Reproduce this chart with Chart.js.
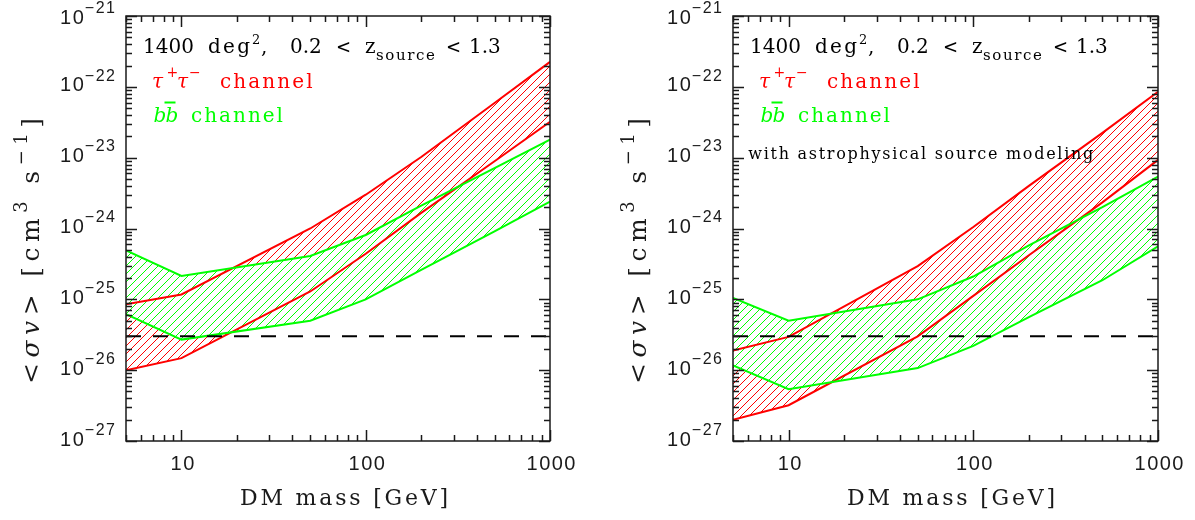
<!DOCTYPE html>
<html>
<head>
<meta charset="utf-8">
<script src="https://cdn.jsdelivr.net/npm/chart.js@4.4.1/dist/chart.umd.min.js"></script>
<style>
  html, body { margin: 0; padding: 0; background: #fff; }
  #wrap { position: relative; width: 1195px; height: 520px; }
  .panel { position: absolute; top: 0; height: 520px; width: 598px; }
  #spare { display: none; }
</style>
</head>
<body>
<canvas id="spare" width="1" height="1"></canvas>
<div id="wrap">
  <div class="panel" style="left:0"><canvas id="lensOnly" width="598" height="520"></canvas></div>
  <div class="panel" style="left:597px"><canvas id="withModel" width="598" height="520"></canvas></div>
</div>
<script>
// DM masses [GeV] where the limits were computed
const masses = [5, 10, 50, 100, 200, 500, 1000];

// <sigma v> bands [cm^3 s^-1], lensing only
const tauHighA = [8.5e-26, 1.17e-25, 1.0e-24, 3.0e-24, 1.02e-23, 5.9e-23, 2.25e-22];
const tauLowA  = [1.0e-26, 1.48e-26, 1.29e-25, 4.4e-25, 1.66e-24, 8.9e-24, 3.2e-23];
const bbHighA  = [4.9e-25, 2.14e-25, 4.1e-25, 8.1e-25, 2.1e-24, 7.1e-24, 1.8e-23];
const bbLowA   = [6.2e-26, 2.7e-26, 5.0e-26, 1.0e-25, 2.6e-25, 9.1e-25, 2.4e-24];

// same, with astrophysical source modeling
const tauHighB = [1.9e-26, 2.95e-26, 2.95e-25, 1.05e-24, 4.0e-24, 2.24e-23, 8.5e-23];
const tauLowB  = [2.0e-27, 3.2e-27, 3.0e-26, 1.12e-25, 4.2e-25, 2.34e-24, 9.3e-24];
const bbHighB  = [1.05e-25, 5.0e-26, 1.0e-25, 2.1e-25, 5.8e-25, 2.0e-24, 5.4e-24];
const bbLowB   = [1.17e-26, 5.4e-27, 1.07e-26, 2.2e-26, 5.6e-26, 1.86e-25, 5.6e-25];

// thermal relic cross section
const thermalRelic = 3e-26;

// axis ranges and labels
const xMin = 5, xMax = 1000;
const xTickLabels = [10, 100, 1000];
const yDecades = [-27, -26, -25, -24, -23, -22, -21];

const RED = '#ff0000';
const GREEN = '#00ff00';
const INK = '#1a1a1a';
const SANS = '"Liberation Sans", Arial, sans-serif';
const SERIF = '"DejaVu Serif", serif';

function pts(xs, ys) {
  return xs.map((x, i) => ({ x: x, y: ys[i] }));
}

// "/" hatching between an upper and a lower dataset, using the
// point positions the line controller has already laid out
function hatchBand(chart, hiIdx, loIdx, color) {
  const ctx = chart.ctx, a = chart.chartArea;
  const hi = chart.getDatasetMeta(hiIdx).data;
  const lo = chart.getDatasetMeta(loIdx).data;
  ctx.save();
  ctx.beginPath();
  ctx.rect(a.left, a.top, a.right - a.left, a.bottom - a.top);
  ctx.clip();
  ctx.beginPath();
  hi.forEach((p, i) => (i ? ctx.lineTo(p.x, p.y) : ctx.moveTo(p.x, p.y)));
  for (let i = lo.length - 1; i >= 0; i--) ctx.lineTo(lo[i].x, lo[i].y);
  ctx.closePath();
  ctx.clip();
  ctx.strokeStyle = color;
  ctx.lineWidth = 1;
  ctx.beginPath();
  const W = chart.width, H = chart.height;
  for (let c = 0; c <= W + H; c += 8) {
    ctx.moveTo(c, 0);
    ctx.lineTo(c - H, H);
  }
  ctx.stroke();
  ctx.restore();
}

// text drawn letter by letter with extra tracking
function textWidth(ctx, text, ls) {
  let w = 0;
  for (const ch of text) w += ctx.measureText(ch).width + ls;
  return w - ls;
}
function spaced(ctx, text, x, y, ls) {
  for (const ch of text) {
    ctx.fillText(ch, x, y);
    x += ctx.measureText(ch).width + ls;
  }
  return x - ls;
}
function fitText(ctx, text, x, y, width) {
  const n = [...text].length;
  const ls = n > 1 ? (width - textWidth(ctx, text, 0)) / (n - 1) : 0;
  return spaced(ctx, text, x, y, ls);
}

// runs of [text, font, dy, gapAfter] spread over a given length
function richRun(ctx, runs, x, y, span) {
  let natural = 0, glyphs = 0;
  runs.forEach(r => {
    ctx.font = r[1];
    natural += textWidth(ctx, r[0], 0) + r[3];
    glyphs += [...r[0]].length;
  });
  const ls = Math.max(0, (span - natural) / Math.max(glyphs - 1, 1));
  runs.forEach(r => {
    ctx.font = r[1];
    x = spaced(ctx, r[0], x, y + r[2], ls) + ls + r[3];
  });
}

function drawAxes(chart) {
  const ctx = chart.ctx;
  const a = chart.chartArea;
  const xs = chart.scales.x, ys = chart.scales.y;
  ctx.save();
  ctx.strokeStyle = INK;
  ctx.lineWidth = 1.5;
  ctx.strokeRect(a.left, a.top, a.right - a.left, a.bottom - a.top);

  ctx.beginPath();
  // y ticks on both sides, inward
  for (let e = -27; e <= -21; e++) {
    for (let k = 1; k <= 9; k++) {
      if (e === -21 && k > 1) break;
      const py = Math.round(ys.getPixelForValue(k * Math.pow(10, e))) + 0.5;
      const len = k === 1 ? 11 : 6;
      ctx.moveTo(a.left, py); ctx.lineTo(a.left + len, py);
      ctx.moveTo(a.right, py); ctx.lineTo(a.right - len, py);
    }
  }
  // x ticks top and bottom
  for (let e = 0; e <= 3; e++) {
    for (let k = 1; k <= 9; k++) {
      const v = k * Math.pow(10, e);
      if (v < xMin || v > xMax) continue;
      const px = Math.round(xs.getPixelForValue(v)) + 0.5;
      const len = k === 1 ? 11 : 6;
      ctx.moveTo(px, a.bottom); ctx.lineTo(px, a.bottom - len);
      ctx.moveTo(px, a.top); ctx.lineTo(px, a.top + len);
    }
  }
  ctx.stroke();

  // y tick labels 10^n
  ctx.fillStyle = INK;
  ctx.textBaseline = 'alphabetic';
  ctx.textAlign = 'left';
  yDecades.forEach(e => {
    const py = ys.getPixelForValue(Math.pow(10, e));
    const base = Math.max(py + 4.5, 24);
    const exp = '\u2212' + Math.abs(e);
    ctx.font = '16px ' + SANS;
    const wExp = textWidth(ctx, exp, 1.5);
    ctx.font = '20px ' + SANS;
    const w10 = textWidth(ctx, '10', 1.5);
    const xEnd = a.left - 11;
    spaced(ctx, '10', xEnd - wExp - w10 - 1, base, 1.5);
    ctx.font = '16px ' + SANS;
    spaced(ctx, exp, xEnd - wExp, base - 10.7, 1.5);
  });

  // x tick labels
  ctx.font = '20px ' + SANS;
  xTickLabels.forEach(v => {
    const px = xs.getPixelForValue(v);
    const s = String(v);
    const w = textWidth(ctx, s, 1.5);
    spaced(ctx, s, px - w / 2 + 1, 470, 1.5);
  });

  // x title
  ctx.font = '22px ' + SERIF;
  fitText(ctx, 'DM mass [GeV]', a.left + 114, 505, 208);

  // y title, rotated
  ctx.save();
  ctx.translate(a.left - 87, 251);
  ctx.rotate(-Math.PI / 2);
  const big = '25px ' + SERIF, it = 'italic 25px ' + SERIF, sup = '18px ' + SERIF;
  richRun(ctx, [
    ['<', big, 0, 0],
    ['\u03c3v', it, 0, 0],
    ['>', big, 0, 12],
    ['[cm', big, 0, 0],
    ['3', sup, -12, 12],
    ['s', big, 0, 0],
    ['\u22121', sup, -12, 0],
    [']', big, 0, 0]
  ], -133, 0, 266);
  ctx.restore();
  ctx.restore();
}

function drawNotes(chart, withModel) {
  const ctx = chart.ctx;
  const L = chart.chartArea.left;
  ctx.save();
  ctx.textBaseline = 'alphabetic';
  ctx.textAlign = 'left';

  // survey area and source redshift range
  ctx.fillStyle = '#000';
  ctx.font = '20px ' + SERIF;
  ctx.fillText('1400', L + 17, 53);
  fitText(ctx, 'deg', L + 82, 53, 42);
  ctx.font = '13px ' + SERIF;
  ctx.fillText('2', L + 126, 44);
  ctx.font = '20px ' + SERIF;
  ctx.fillText(',', L + 135, 53);
  ctx.fillText('0.2', L + 164, 53);
  ctx.fillText('z', L + 239, 53);
  ctx.fillText('1.3', L + 343, 53);
  ctx.font = '18px ' + SERIF;
  ctx.fillText('<', L + 210, 53);
  ctx.fillText('<', L + 320, 53);
  ctx.font = '15px ' + SERIF;
  fitText(ctx, 'source', L + 250, 60, 59);

  // tau tau channel
  ctx.fillStyle = RED;
  ctx.font = 'italic 20px ' + SERIF;
  ctx.fillText('\u03c4', L + 26, 88.3);
  ctx.fillText('\u03c4', L + 51, 88.3);
  ctx.font = '14px ' + SERIF;
  ctx.fillText('+', L + 40.5, 77);
  ctx.fillText('\u2212', L + 63, 77);
  ctx.font = '20px ' + SERIF;
  fitText(ctx, 'channel', L + 94, 88.3, 92.7);

  // b bbar channel
  ctx.fillStyle = GREEN;
  ctx.font = 'italic 20px ' + SERIF;
  ctx.fillText('b', L + 27.5, 121.7);
  ctx.fillText('b', L + 39.5, 121.7);
  ctx.fillRect(L + 38.5, 101.5, 11, 2);
  ctx.font = '20px ' + SERIF;
  fitText(ctx, 'channel', L + 65, 121.7, 92);

  if (withModel) {
    ctx.fillStyle = '#000';
    ctx.font = '16px ' + SERIF;
    fitText(ctx, 'with astrophysical source modeling', L + 15.3, 159.3, 345);
  }
  ctx.restore();
}

function makePanel(id, axisW, padRight, tauHigh, tauLow, bbHigh, bbLow, withModel) {
  const ctx = document.getElementById(id).getContext('2d');
  return new Chart(ctx, {
    type: 'line',
    data: {
      datasets: [
        { data: pts(masses, tauHigh), borderColor: RED, order: 2 },
        { data: pts(masses, tauLow), borderColor: RED, order: 2 },
        { data: pts(masses, bbHigh), borderColor: GREEN, order: 1 },
        { data: pts(masses, bbLow), borderColor: GREEN, order: 1 },
        { data: [{ x: xMin, y: thermalRelic }, { x: xMax, y: thermalRelic }],
          borderColor: '#000', borderDash: [15, 12], order: 0 }
      ]
    },
    options: {
      responsive: false,
      devicePixelRatio: 1,
      animation: false,
      layout: { padding: { left: 0, right: padRight, top: 16, bottom: 0 } },
      elements: {
        line: { borderWidth: 2, tension: 0, fill: false },
        point: { radius: 0, hoverRadius: 0 }
      },
      plugins: { legend: { display: false }, tooltip: { enabled: false } },
      scales: {
        x: {
          type: 'logarithmic', min: xMin, max: xMax,
          ticks: { display: false }, grid: { display: false }, border: { display: false },
          afterFit: s => { s.height = 79; }
        },
        y: {
          type: 'logarithmic', min: 1e-27, max: 1e-21,
          ticks: { display: false }, grid: { display: false }, border: { display: false },
          afterFit: s => { s.width = axisW; }
        }
      }
    },
    plugins: [{
      id: 'frame',
      beforeDatasetsDraw: chart => {
        hatchBand(chart, 0, 1, RED);
        hatchBand(chart, 2, 3, GREEN);
      },
      afterDraw: chart => { drawAxes(chart); drawNotes(chart, withModel); }
    }]
  });
}

makePanel('lensOnly', 126, 48, tauHighA, tauLowA, bbHighA, bbLowA, false);
makePanel('withModel', 136, 37, tauHighB, tauLowB, bbHighB, bbLowB, true);
</script>
</body>
</html>
